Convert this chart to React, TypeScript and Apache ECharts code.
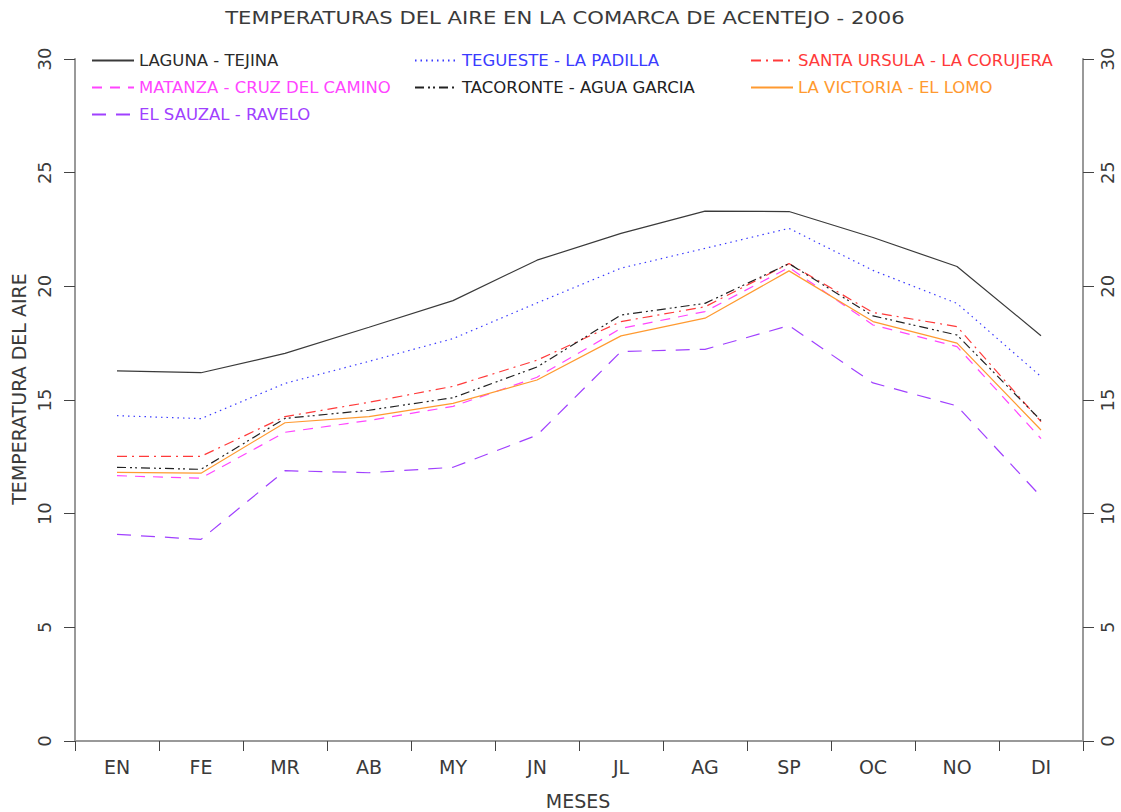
import React, { useEffect, useRef } from "react";
import * as echarts from "echarts";

const months = ["EN", "FE", "MR", "AB", "MY", "JN", "JL", "AG", "SP", "OC", "NO", "DI"];

const lagunaTejina = [16.28, 16.2, 17.05, 18.2, 19.37, 21.15, 22.33, 23.31, 23.29, 22.15, 20.87, 17.83];
const teguesteLaPadilla = [14.31, 14.18, 15.73, 16.7, 17.7, 19.27, 20.8, 21.67, 22.55, 20.7, 19.25, 16.03];
const santaUrsulaLaCorujera = [12.52, 12.52, 14.27, 14.9, 15.6, 16.75, 18.45, 19.1, 21.0, 18.85, 18.23, 14.05];
const matanzaCruzDelCamino = [11.67, 11.56, 13.58, 14.1, 14.72, 16.0, 18.15, 18.89, 20.83, 18.3, 17.35, 13.3];
const tacoronteAguaGarcia = [12.04, 11.95, 14.19, 14.55, 15.1, 16.45, 18.74, 19.25, 21.0, 18.7, 17.86, 14.1];
const laVictoriaElLomo = [11.82, 11.78, 14.0, 14.27, 14.85, 15.88, 17.82, 18.6, 20.68, 18.45, 17.5, 13.68];
const elSauzalRavelo = [9.09, 8.87, 11.89, 11.8, 12.04, 13.45, 17.13, 17.23, 18.27, 15.75, 14.74, 10.75];

const yTicks = [0, 5, 10, 15, 20, 25, 30];

const titleText = "TEMPERATURAS DEL AIRE EN LA COMARCA DE ACENTEJO - 2006";
const yTitle = "TEMPERATURA DEL AIRE";
const xTitle = "MESES";

const FONT = "DejaVu Sans";
const TXT = "#3a3a3a";

const seriesDefs = [
  { name: "LAGUNA - TEJINA", data: lagunaTejina, color: "#3a3a3a", text: "#2a2a2a", dash: "solid" as any },
  { name: "TEGUESTE - LA PADILLA", data: teguesteLaPadilla, color: "#3b3bff", text: "#3b3bff", dash: [1.5, 4] },
  { name: "SANTA URSULA - LA CORUJERA", data: santaUrsulaLaCorujera, color: "#ff3a3a", text: "#ff3a3a", dash: [10, 5, 2, 5] },
  { name: "MATANZA - CRUZ DEL CAMINO", data: matanzaCruzDelCamino, color: "#ff45ff", text: "#ff45ff", dash: [10, 8] },
  { name: "TACORONTE - AGUA GARCIA", data: tacoronteAguaGarcia, color: "#222222", text: "#222222", dash: [9, 4, 2, 3, 2, 4] },
  { name: "LA VICTORIA - EL LOMO", data: laVictoriaElLomo, color: "#ff9a30", text: "#ff9a30", dash: "solid" as any },
  { name: "EL SAUZAL - RAVELO", data: elSauzalRavelo, color: "#a040ff", text: "#a040ff", dash: [14, 10] },
];

const legendCols = [
  { left: 91, names: ["LAGUNA - TEJINA", "MATANZA - CRUZ DEL CAMINO", "EL SAUZAL - RAVELO"] },
  { left: 414, names: ["TEGUESTE - LA PADILLA", "TACORONTE - AGUA GARCIA"] },
  { left: 750, names: ["SANTA URSULA - LA CORUJERA", "LA VICTORIA - EL LOMO"] },
];

function buildOption() {
  const findDef = (n: string) => seriesDefs.find((s) => s.name === n)!;
  const yAxisCommon = (position: "left" | "right", margin: number) => ({
    type: "value",
    position,
    min: yTicks[0],
    max: yTicks[yTicks.length - 1],
    interval: yTicks[1] - yTicks[0],
    splitLine: { show: false },
    axisLine: { show: true, lineStyle: { color: "#999999", width: 2 } },
    axisTick: { show: true, length: 11, lineStyle: { color: "#444444", width: 1 } },
    axisLabel: {
      rotate: 90,
      margin,
      fontFamily: FONT,
      fontSize: 18,
      color: TXT,
    },
  });
  return {
    animation: false,
    backgroundColor: "#ffffff",
    legend: legendCols.map((col) => ({
      left: col.left,
      top: 52,
      padding: 0,
      orient: "vertical",
      itemGap: 10,
      itemWidth: 42,
      itemHeight: 14,
      itemStyle: { opacity: 0 },
      textStyle: { fontFamily: FONT, fontSize: 16.5, lineHeight: 17 },
      data: col.names.map((n) => ({ name: n, textStyle: { color: findDef(n).text } })),
    })),
    grid: { left: 75, right: 38, top: 59, bottom: 71, containLabel: false },
    xAxis: {
      type: "category",
      data: months,
      boundaryGap: true,
      axisLine: { show: true, lineStyle: { color: "#999999", width: 2 } },
      axisTick: { show: true, length: 10, alignWithLabel: false, lineStyle: { color: "#444444", width: 1 } },
      axisLabel: { margin: 16, fontFamily: FONT, fontSize: 19, color: TXT },
      splitLine: { show: false },
    },
    yAxis: [yAxisCommon("left", 22), yAxisCommon("right", 15)],
    graphic: [
      {
        type: "text",
        x: 565,
        y: 18,
        scaleX: 1.245,
        style: {
          text: titleText,
          fontFamily: FONT,
          fontSize: 17,
          fill: TXT,
          align: "center",
          verticalAlign: "middle",
        },
      },
      {
        type: "text",
        x: 19,
        y: 389,
        rotation: Math.PI / 2,
        style: {
          text: yTitle,
          fontFamily: FONT,
          fontSize: 19,
          fill: TXT,
          align: "center",
          verticalAlign: "middle",
        },
      },
      {
        type: "text",
        x: 578,
        y: 801,
        style: {
          text: xTitle,
          fontFamily: FONT,
          fontSize: 19,
          fill: TXT,
          align: "center",
          verticalAlign: "middle",
        },
      },
    ],
    series: seriesDefs.map((s) => ({
      name: s.name,
      type: "line",
      data: s.data,
      yAxisIndex: 0,
      symbol: "none",
      showSymbol: false,
      smooth: false,
      color: s.color,
      lineStyle: { color: s.color, width: 1.2, type: s.dash },
    })),
  };
}

export default function App() {
  const ref = useRef<HTMLDivElement>(null);
  useEffect(() => {
    const chart = echarts.init(ref.current!, null, { renderer: "svg" });
    chart.setOption(buildOption() as any);
    return () => chart.dispose();
  }, []);
  return (
    <div
      ref={ref}
      style={{ position: "absolute", left: 0, top: 0, width: 1121, height: 812 }}
    />
  );
}
